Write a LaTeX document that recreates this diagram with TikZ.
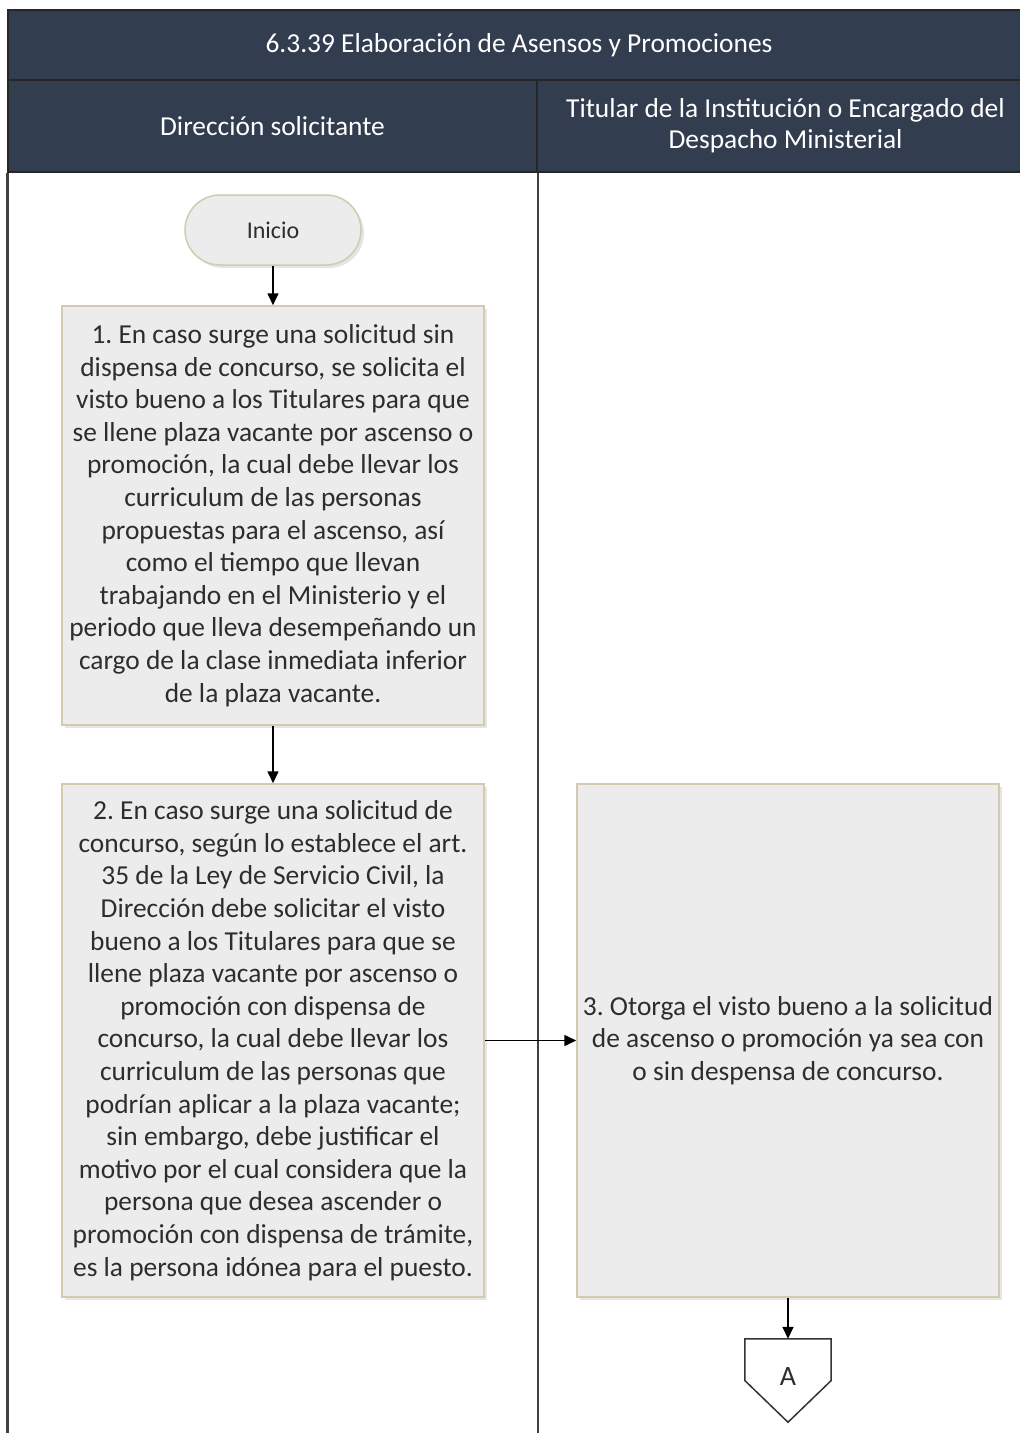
\documentclass[tikz,border=0pt]{standalone}
\usepackage{fontspec}
\setmainfont{Carlito}
\frenchspacing
\usetikzlibrary{arrows.meta,positioning,shadows,calc}
\definecolor{headnavy}{RGB}{50,61,80}
\definecolor{boxgray}{RGB}{236,236,236}
\definecolor{boxedge}{RGB}{210,203,176}
\definecolor{txtgray}{RGB}{45,45,45}

\begin{document}
\begin{tikzpicture}[x=1pt,y=-1pt,
        lanehead/.style={draw=black!85, line width=1.5pt, fill=headnavy, text=white, align=center, inner sep=0pt, font=\fontsize{27.4}{31}\selectfont},
        laneline/.style={draw=black!75, line width=2.5pt},
        stepbox/.style={draw=boxedge, line width=1.5pt, fill=boxgray, text=txtgray, align=center, inner sep=0pt,
          minimum width=422pt, font=\fontsize{27.4}{32.6}\selectfont,
          drop shadow={shadow xshift=3pt, shadow yshift=-3pt, opacity=0.22, fill=black!45}},
        endpoint/.style={stepbox, minimum width=176pt, minimum height=70pt, rounded corners=35pt, font=\fontsize{24}{28}\selectfont},
        offpage/.style={minimum width=86pt, minimum height=83pt, inner sep=0pt, text=txtgray, font=\fontsize{28}{30}\selectfont},
        flow/.style={-{Triangle[length=12pt,width=11pt]}, line width=1.6pt}]
        \clip (0,0) rectangle (1020,1433);
        \fill[white] (0,0) rectangle (1020,1433);
        % headers
        \node[lanehead, minimum width=1022pt, minimum height=70pt] (titulo) at (519,45) {6.3.39 Elaboración de Asensos y Promociones};
        \node[lanehead, minimum width=529pt, minimum height=92pt] (carrilA) at (272.5,126) {Dirección solicitante};
        \node[lanehead, minimum width=497pt, minimum height=92pt] (carrilB) at (785.5,126) {Titular de la Institución o Encargado del\\Despacho Ministerial};
        \draw[laneline] (carrilA.south west) -- ++(0,1270);
        \draw[laneline] (carrilA.south east) -- ++(0,1270);
        % steps
        \node[endpoint] (inicio) at (273,230) {Inicio};
        \node[stepbox, minimum height=419pt] (paso1) at (273,515.5) {1. En caso surge una solicitud sin\\dispensa de concurso, se solicita el\\visto bueno a los Titulares para que\\se llene plaza vacante por ascenso o\\promoción, la cual debe llevar los\\curriculum de las personas\\propuestas para el ascenso, así\\como el tiempo que llevan\\trabajando en el Ministerio y el\\periodo que lleva desempeñando un\\cargo de la clase inmediata inferior\\de la plaza vacante.};
        \node[stepbox, minimum height=513pt] (paso2) at (273,1040.5) {2. En caso surge una solicitud de\\concurso, según lo establece el art.\\35 de la Ley de Servicio Civil, la\\Dirección debe solicitar el visto\\bueno a los Titulares para que se\\llene plaza vacante por ascenso o\\promoción con dispensa de\\concurso, la cual debe llevar los\\curriculum de las personas que\\podrían aplicar a la plaza vacante;\\sin embargo, debe justificar el\\motivo por el cual considera que la\\persona que desea ascender o\\promoción con dispensa de trámite,\\es la persona idónea para el puesto.};
        \node[stepbox, minimum height=513pt] (paso3) at (788,1040.5) {3. Otorga el visto bueno a la solicitud\\de ascenso o promoción ya sea con\\o sin despensa de concurso.};
        \node[offpage] (conA) at (788,1380.5) {\raisebox{8pt}{A}};
        \draw[black!80, line width=1.5pt] (conA.north west) -- (conA.north east) -- (conA.east) -- (conA.south) -- (conA.west) -- cycle;
        % connectors
        \draw[flow] (inicio) -- (paso1);
        \draw[flow] (paso1) -- (paso2);
        \draw[flow] (paso2) -- (paso3);
        \draw[flow] (paso3) -- (conA);
      \end{tikzpicture}
\end{document}
